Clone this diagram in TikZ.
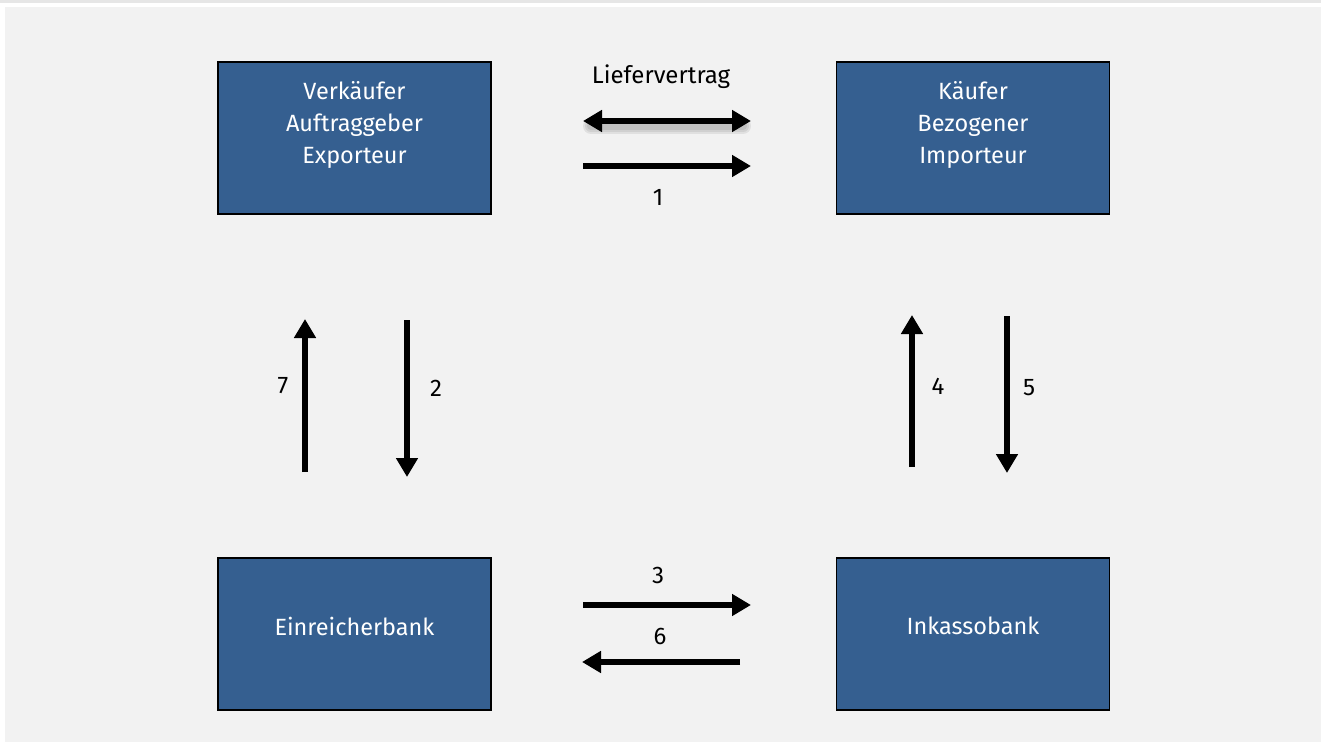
\documentclass[tikz,border=0pt]{standalone}
\usepackage{fontspec}
\setmainfont{Fira Sans}
\usetikzlibrary{arrows.meta}
\definecolor{bg}{HTML}{F2F2F2}
\definecolor{boxblue}{HTML}{355F90}
\tikzset{
  box/.style={draw=black, line width=1.6pt, fill=boxblue, minimum width=273pt, minimum height=152pt, inner sep=0pt},
  boxtext/.style={text=white, align=center, font=\fontsize{23.5}{32}\selectfont, inner sep=0pt},
  lbl/.style={text=black, font=\fontsize{24}{28}\selectfont, inner sep=0pt},
  flow/.style={line width=5.2pt, -{Triangle[length=19pt,width=21pt]}},
  flowboth/.style={line width=5.2pt, {Triangle[length=19pt,width=21pt]}-{Triangle[length=19pt,width=21pt]}},
}
\begin{document}
\begin{tikzpicture}[x=1pt,y=-1pt]
\useasboundingbox (0,0) rectangle (1321,742);
\fill[white] (0,0) rectangle (1321,742);
\fill[bg!95!black] (0,0) rectangle (1321,3);
\fill[bg] (5,7) rectangle (1321,742);
% boxes
\node[box] (vk) at (354.5,138) {};
\node[box] (kf) at (973,138) {};
\node[box] (eb) at (354.5,634) {};
\node[box] (ib) at (973,634) {};
\node[boxtext] (vkt) at ([yshift=13pt]vk.center) {Verkäufer\\Auftraggeber\\Exporteur};
\node[boxtext] (kft) at ([yshift=13pt]kf.center) {Käufer\\Bezogener\\Importeur};
\node[boxtext] (ebt) at ([yshift=8pt]eb.center) {Einreicherbank};
\node[boxtext] (ibt) at ([yshift=8pt]ib.center) {Inkassobank};
% arrow endpoints
\coordinate (lvA) at (583,121); \coordinate (lvB) at (751,121);
\coordinate (a1A) at (583,166); \coordinate (a1B) at (751,166);
\coordinate (a3A) at (583,605); \coordinate (a3B) at (751,605);
\coordinate (a6A) at (740,662); \coordinate (a6B) at (582,662);
\coordinate (a7A) at (305,472); \coordinate (a7B) at (305,319);
\coordinate (a2A) at (407,320); \coordinate (a2B) at (407,477);
\coordinate (a4A) at (912,467); \coordinate (a4B) at (912,315);
\coordinate (a5A) at (1007,316); \coordinate (a5B) at (1007,473);
% soft shadow of the Liefervertrag arrow
\foreach \w in {16,12,8}{
  \draw[black, line width=\w pt, opacity=0.07, line cap=round] ([shift={(8,5)}]lvA) -- ([shift={(-8,5)}]lvB);
}
\draw[flowboth] (lvA) -- (lvB);
\draw[flow] (a1A) -- (a1B);
\draw[flow] (a3A) -- (a3B);
\draw[flow] (a6A) -- (a6B);
\draw[flow] (a7A) -- (a7B);
\draw[flow] (a2A) -- (a2B);
\draw[flow] (a4A) -- (a4B);
\draw[flow] (a5A) -- (a5B);
% labels
\node[lbl] (lv) at (661,77) {Liefervertrag};
\node[lbl] (l1) at (658,197) {1};
\node[lbl] (l3) at (658,575) {3};
\node[lbl] (l6) at (660,636) {6};
\node[lbl] (l7) at (283,386) {7};
\node[lbl] (l2) at (436,388) {2};
\node[lbl] (l4) at (938,386) {4};
\node[lbl] (l5) at (1029,388) {5};
\end{tikzpicture}
\end{document}
